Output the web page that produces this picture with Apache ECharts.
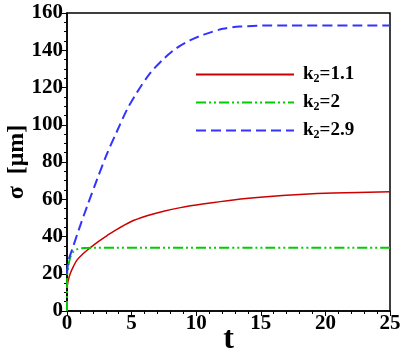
<!DOCTYPE html>
<html>
<head>
<meta charset="utf-8">
<script src="https://cdn.jsdelivr.net/npm/echarts@6/dist/echarts.min.js"></script>
<style>
  html, body { margin: 0; padding: 0; background: #fff; }
  #chart { width: 405px; height: 360px; }
</style>
</head>
<body>
<div id="chart"></div>
<script>
// 读图得到的数据
const tRed = [0, 0.1, 0.26, 0.5, 0.77, 1.2, 1.81, 2.5, 3.1, 3.61, 4.9, 6.19, 7.48, 8.78, 10.5, 12.87, 15.45, 18, 20.6, 25]
const sRed = [13, 16.5, 20.3, 24, 27.3, 30.5, 34, 37.6, 40.5, 42.8, 47.8, 51.1, 53.6, 55.5, 57.4, 59.6, 61.3, 62.5, 63.3, 64]

const tGreen = [0, 0.01, 0.03, 0.13, 0.26, 0.52, 0.8, 1.3, 2, 25]
const sGreen = [0, 14, 21, 25, 29, 32, 33.2, 33.8, 34, 34]

const tBlue = [0, 0.05, 0.13, 0.39, 0.91, 1.55, 2.32, 3.1, 3.87, 4.64, 5.42, 6.45, 7.48, 8.51, 9.55, 10.58, 12.07, 13.37, 15.7, 25]
const sBlue = [20, 24, 27.5, 32.8, 43.6, 56.1, 70.5, 84.5, 96.5, 108.1, 117.4, 127.8, 135.4, 141.3, 145.4, 148.4, 151.5, 152.7, 153.3, 153.3]

const names = ['k{s|2}=1.1', 'k{s|2}=2', 'k{s|2}=2.9']

function pairs(t, s) {
  return t.map(function (v, i) { return [v, s[i]] })
}

const font = '"Liberation Serif", "Times New Roman", serif'
const myChart = echarts.init(document.getElementById('chart'))

const option = {
  animation: false,
  backgroundColor: '#fff',
  grid: {
    left: 67,
    right: 15,
    top: 13,
    bottom: 49,
    outerBoundsMode: 'none',
    containLabel: false,
    show: true,
    borderColor: '#000',
    borderWidth: 1.5
  },
  legend: {
    left: 190,
    top: 60,
    orient: 'vertical',
    itemWidth: 98,
    itemHeight: 18,
    itemGap: 8,
    data: names,
    itemStyle: { opacity: 0 },
    textStyle: {
      fontFamily: font,
      fontWeight: 'bold',
      fontSize: 19,
      color: '#000',
      padding: [0, 0, 0, 4],
      rich: {
        s: { fontFamily: font, fontWeight: 'bold', fontSize: 12, verticalAlign: 'bottom', padding: [9, 0, 0, 0] }
      }
    }
  },
  xAxis: {
    type: 'value',
    min: 0,
    max: 25,
    interval: 5,
    name: 't',
    nameLocation: 'middle',
    nameMoveOverlap: false,
    nameGap: 13,
    nameTextStyle: { fontFamily: font, fontWeight: 'bold', fontSize: 32, color: '#000' },
    axisLine: { lineStyle: { color: '#000', width: 1.5 } },
    axisTick: { inside: false, length: 5, lineStyle: { color: '#000' } },
    minorTick: { show: true, splitNumber: 5, length: 3, lineStyle: { color: '#000' } },
    axisLabel: { fontFamily: font, fontWeight: 'bold', fontSize: 21, color: '#000', margin: 2 },
    splitLine: { show: false }
  },
  yAxis: {
    type: 'value',
    min: 0,
    max: 160,
    interval: 20,
    name: 'σ  [μm]',
    nameLocation: 'middle',
    nameMoveOverlap: false,
    nameGap: 38,
    nameRotate: 90,
    nameTextStyle: { fontFamily: font, fontWeight: 'bold', fontSize: 24, color: '#000' },
    axisLine: { lineStyle: { color: '#000', width: 1.5 } },
    axisTick: { inside: false, length: 5, lineStyle: { color: '#000' } },
    minorTick: { show: true, splitNumber: 4, length: 3, lineStyle: { color: '#000' } },
    axisLabel: { fontFamily: font, fontWeight: 'bold', fontSize: 21, color: '#000', margin: 4 },
    splitLine: { show: false }
  },
  series: [{
    name: names[0],
    type: 'line',
    symbol: 'none',
    smooth: 0.3,
    data: pairs(tRed, sRed),
    itemStyle: { color: '#cc0000' },
    lineStyle: { color: '#cc0000', width: 1.5 }
  }, {
    name: names[1],
    type: 'line',
    symbol: 'none',
    smooth: 0.3,
    data: pairs(tGreen, sGreen),
    itemStyle: { color: '#00cc00' },
    lineStyle: { color: '#00cc00', width: 2, type: [10, 3, 2, 3, 2, 3] }
  }, {
    name: names[2],
    type: 'line',
    symbol: 'none',
    smooth: 0.3,
    data: pairs(tBlue, sBlue),
    itemStyle: { color: '#3333ff' },
    lineStyle: { color: '#3333ff', width: 2, type: [10, 5] }
  }]
}

option && myChart.setOption(option)
</script>
</body>
</html>
